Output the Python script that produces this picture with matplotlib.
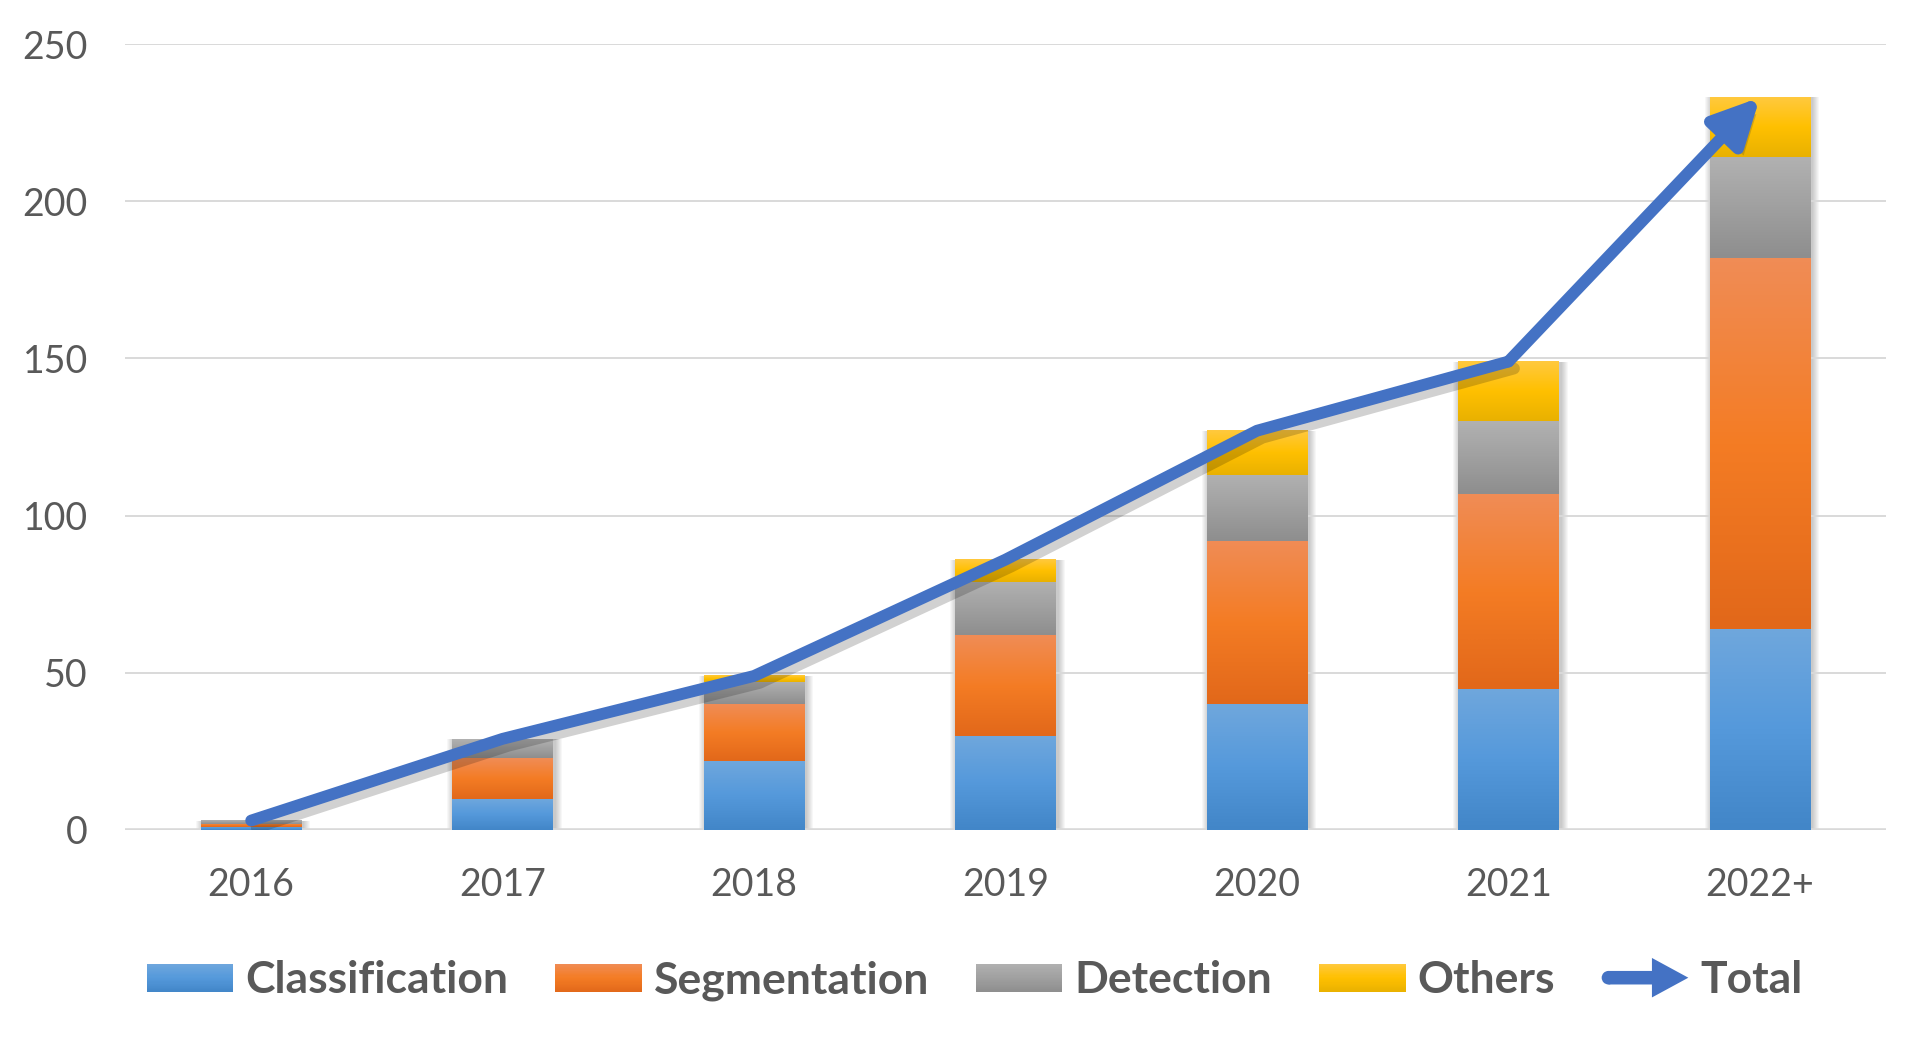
import numpy as np
import matplotlib.pyplot as plt
import matplotlib.patheffects as pe
from matplotlib.colors import LinearSegmentedColormap
from matplotlib.patches import Rectangle, FancyArrow, Circle
from matplotlib.legend_handler import HandlerBase

years = ['2016', '2017', '2018', '2019', '2020', '2021', '2022+']
classification = [1, 10, 22, 30, 40, 45, 64]
segmentation = [1, 13, 18, 32, 52, 62, 118]
detection = [1, 6, 7, 17, 21, 23, 32]
others = [0, 0, 2, 7, 14, 19, 19]
total = [3, 29, 49, 86, 127, 149, 233]

series = [
    ('Classification', classification, ('#4286C8', '#5599DB', '#6FA7DD')),
    ('Segmentation', segmentation, ('#E2681A', '#F47C24', '#F08C55')),
    ('Detection', detection, ('#8E8E8E', '#A0A0A0', '#B1B1B1')),
    ('Others', others, ('#E9B100', '#FFC000', '#FFC93E')),
]
line_col = '#4472C4'
txt_col = '#595959'

plt.rcParams['font.family'] = ['Lato', 'DejaVu Sans']

fig = plt.figure(figsize=(19.3, 10.41), dpi=100)
ax = fig.add_axes([0.065, 0.2027, 0.912, 0.755])

x = np.arange(len(years))
w = 0.4
grad = np.linspace(0, 1, 64).reshape(-1, 1)

# soft shadow behind the stacks
stack = np.sum([s[1] for s in series], axis=0)
px = 1 / 251.5
py = 250 / 786
for xi, h in zip(x, stack):
    for k in range(1, 8):
        ax.add_patch(Rectangle((xi - w / 2 - k * px + 2 * px, -k * py), w + 2 * k * px,
                               h + k * py, facecolor='black', edgecolor='none',
                               alpha=0.03, zorder=1.5))

handles = []
bottom = np.zeros(len(years))
for name, vals, cols in series:
    cmap = LinearSegmentedColormap.from_list(name, list(cols))
    bars = ax.bar(x, vals, width=w, bottom=bottom, color=cols[1], zorder=2)
    for r in bars:
        if r.get_height() > 0:
            x0, y0 = r.get_x(), r.get_y()
            ax.imshow(grad, extent=(x0, x0 + r.get_width(), y0, y0 + r.get_height()),
                      origin='lower', aspect='auto', cmap=cmap, zorder=2.1,
                      interpolation='bicubic')
    bottom = bottom + np.array(vals)
    h = Rectangle((0, 0), 1, 1)
    h.cmap = cmap
    handles.append(h)

# total line with arrow head
shadow = [pe.SimpleLineShadow(offset=(4, -5), alpha=0.18, shadow_color='black'), pe.Normal()]
ax.plot(x[:-1], total[:-1], color=line_col, lw=8.5, solid_capstyle='round',
        solid_joinstyle='round', zorder=4, path_effects=shadow)
ax.annotate('', xy=(x[-1], total[-1]), xytext=(x[-2], total[-2]),
            arrowprops=dict(arrowstyle='-|>,head_length=2.0,head_width=1.0', mutation_scale=14,
                            color=line_col, lw=8.5, shrinkA=0, shrinkB=0,
                            path_effects=[pe.SimplePatchShadow(offset=(4, -5), alpha=0.18),
                                          pe.Normal()]),
            zorder=4)

ax.set_xlim(-0.5, 6.5)
ax.set_ylim(0, 250)
ax.set_yticks(range(0, 251, 50))
ax.set_xticks(x)
ax.set_xticklabels(years)
ax.grid(axis='y', color='#D9D9D9', lw=1.4, zorder=0)
ax.axhline(0, color='#D9D9D9', lw=2.6, zorder=1.8)
for s in ax.spines.values():
    s.set_visible(False)
ax.tick_params(axis='both', length=0, labelsize=27, labelcolor=txt_col)
ax.tick_params(axis='y', pad=27)
ax.tick_params(axis='x', pad=27)


class GradHandler(HandlerBase):
    def create_artists(self, legend, orig_handle, xdescent, ydescent, width, height, fontsize, trans):
        n = 24
        out = []
        for i in range(n):
            out.append(Rectangle((-xdescent, -ydescent + height * i / n), width, height / n * 1.05,
                                 facecolor=orig_handle.cmap((i + 0.5) / n), edgecolor='none',
                                 transform=trans))
        return out


class ArrowHandler(HandlerBase):
    def create_artists(self, legend, orig_handle, xdescent, ydescent, width, height, fontsize, trans):
        yc = -ydescent + height / 2
        sw = 0.48 * height
        arr = FancyArrow(-xdescent + sw / 2, yc, width - sw / 2, 0, width=sw, head_width=1.4 * height,
                         head_length=0.42 * width, length_includes_head=True,
                         facecolor=line_col, edgecolor='none', transform=trans)
        cap = Circle((-xdescent + sw / 2, yc), sw / 2, facecolor=line_col, edgecolor='none',
                     transform=trans)
        return [cap, arr]


arrow_handle = FancyArrow(0, 0, 1, 0)
handles.append(arrow_handle)
labels = [s[0] for s in series] + ['Total']
fig.legend(handles, labels, loc='center', bbox_to_anchor=(0.505, 0.058), ncol=5, frameon=False,
           prop={'family': 'Lato', 'weight': 'bold', 'size': 32}, labelcolor=txt_col,
           handlelength=1.95, handleheight=0.6, handletextpad=0.27, columnspacing=1.05,
           handler_map={Rectangle: GradHandler(), FancyArrow: ArrowHandler()})

fig.savefig('out.png', dpi=100)
